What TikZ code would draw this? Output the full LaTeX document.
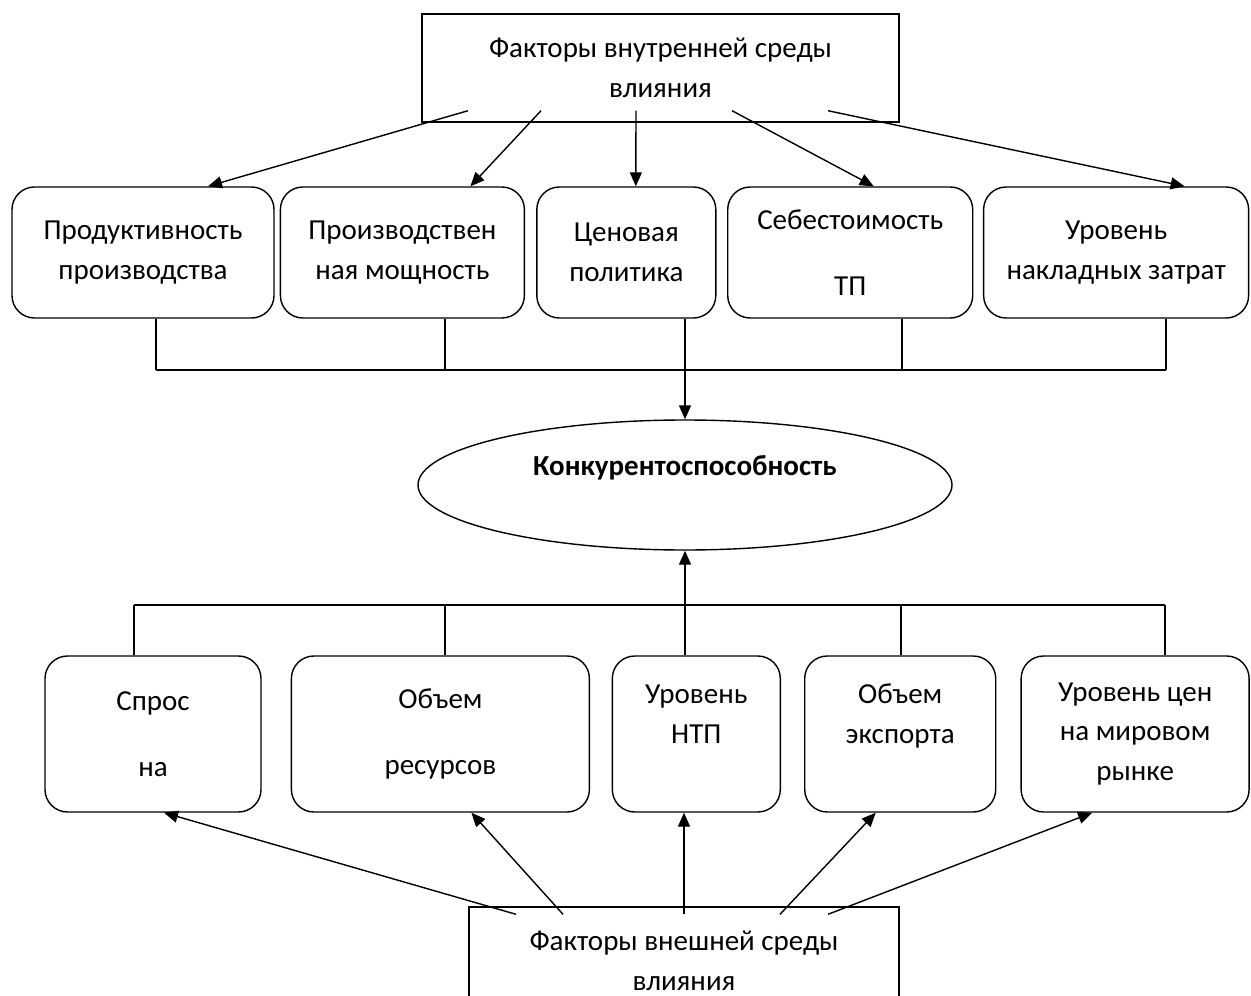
\documentclass[tikz,border=0pt]{standalone}
\usepackage{fontspec}
\setmainfont{Carlito}
\usetikzlibrary{shapes.geometric,positioning,arrows.meta}
\tikzstyle{factor} = [rectangle, draw=black, line width=0.8pt, align=center, minimum height=2.16cm]
\tikzstyle{inbox} = [rectangle, rounded corners=0.45cm, draw=black, line width=0.8pt, align=center, minimum height=2.62cm]
\tikzstyle{outbox} = [rectangle, rounded corners=0.45cm, draw=black, line width=0.8pt, align=center, minimum height=3.12cm]
\tikzstyle{goal} = [ellipse, draw=black, line width=0.8pt, align=center, minimum width=10.68cm, minimum height=2.6cm]
\tikzstyle{arrow} = [line width=0.8pt, -{Triangle[length=0.28cm,width=0.24cm]}]
\tikzstyle{bus} = [line width=0.8pt]

\begin{document}
\begin{tikzpicture}[font=\fontsize{16.5}{22.7}\selectfont]
      \useasboundingbox (0,0) rectangle (25.02,-19.92);
      % internal factors
      \node (inner)[factor, minimum width=9.54cm] at (13.21,-1.36) {Факторы внутренней среды\\влияния};
      \node (prod)[inbox, minimum width=5.24cm] at (2.86,-5.05) {Продуктивность\\производства};
      \node (mosch)[inbox, minimum width=4.88cm, right=0.1cm of prod]{Производствен\\ная мощность};
      \node (cena)[inbox, minimum width=3.58cm, right=0.22cm of mosch]{Ценовая\\политика};
      \node (sebest)[inbox, minimum width=4.9cm, right=0.21cm of cena]{Себестоимость\\[15pt]ТП};
      \node (zatr)[inbox, minimum width=5.3cm, right=0.19cm of sebest]{Уровень\\накладных затрат};
      % result
      \node (konk)[goal] at (13.7,-9.7) {\textbf{Конкурентоспособность}\\~};
      % external factors
      \node (spros)[outbox, minimum width=4.32cm] at (3.06,-14.68) {Спрос\\[15pt]на};
      \node (resurs)[outbox, minimum width=5.96cm, right=0.58cm of spros]{Объем\\[15pt]ресурсов};
      \node (ntp)[outbox, minimum width=3.36cm, right=0.43cm of resurs]{Уровень\\НТП\\~};
      \node (eksp)[outbox, minimum width=3.82cm, right=0.46cm of ntp]{Объем\\экспорта\\~};
      \node (rynok)[outbox, minimum width=4.56cm, right=0.48cm of eksp]{Уровень цен\\на мировом\\рынке};
      \node (outer)[factor, minimum width=8.6cm] at (13.68,-19.22) {Факторы внешней среды\\влияния};

      \draw [arrow]([xshift=-3.85cm, yshift=0.24cm]inner.south)--([xshift=1.3cm]prod.north);
      \draw [arrow]([xshift=-2.39cm, yshift=0.24cm]inner.south)--([xshift=1.36cm]mosch.north);
      \draw [arrow]([xshift=-0.49cm, yshift=0.24cm]inner.south)--([xshift=0.19cm]cena.north);
      \draw [arrow]([xshift=1.43cm, yshift=0.24cm]inner.south)--([xshift=0.47cm]sebest.north);
      \draw [arrow]([xshift=3.35cm, yshift=0.24cm]inner.south)--([xshift=1.37cm]zatr.north);

      \coordinate (t1) at (3.12,-7.4);
      \coordinate (t2) at (8.9,-7.4);
      \coordinate (t4) at (18.04,-7.4);
      \coordinate (t5) at (23.32,-7.4);
      \draw [bus](t1)--(t5);
      \draw [bus](prod.south -| t1)--(t1);
      \draw [bus](mosch.south -| t2)--(t2);
      \draw [bus](sebest.south -| t4)--(t4);
      \draw [bus](zatr.south -| t5)--(t5);
      \draw [arrow](cena.south -| konk.north)--(konk.north);

      \coordinate (b1) at (2.68,-12.1);
      \coordinate (b2) at (8.9,-12.1);
      \coordinate (b4) at (18.02,-12.1);
      \coordinate (b5) at (23.3,-12.1);
      \draw [bus](b1)--(b5);
      \draw [bus](spros.north -| b1)--(b1);
      \draw [bus](resurs.north -| b2)--(b2);
      \draw [bus](eksp.north -| b4)--(b4);
      \draw [bus](rynok.north -| b5)--(b5);
      \draw [arrow](ntp.north -| konk.south)--(konk.south);

      \draw [arrow]([xshift=-3.36cm, yshift=-0.16cm]outer.north)--([xshift=0.22cm]spros.south);
      \draw [arrow]([xshift=-2.42cm, yshift=-0.16cm]outer.north)--([xshift=0.62cm]resurs.south);
      \draw [arrow]([yshift=-0.16cm]outer.north)--(ntp.south -| outer.north);
      \draw [arrow]([xshift=1.92cm, yshift=-0.16cm]outer.north)--([xshift=-0.49cm]eksp.south);
      \draw [arrow]([xshift=2.88cm, yshift=-0.16cm]outer.north)--([xshift=-0.86cm]rynok.south);
\end{tikzpicture}
\end{document}
